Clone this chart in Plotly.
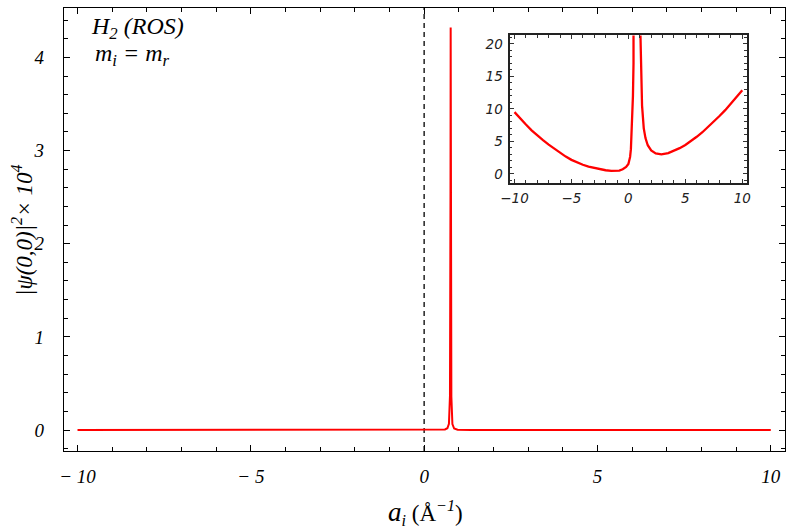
import plotly.graph_objects as go

# a_i values (Å^-1) and |psi(0,0)|^2 values (inset units)
a_i = [-10, -9.5, -9, -8.5, -8, -7.5, -7, -6.5, -6, -5.5, -5, -4.5, -4, -3.5, -3, -2.5,
       -2, -1.5, -1.2, -0.8, -0.5, -0.2, 0, 0.15, 0.22, 0.3, 0.35, 0.4, 0.45, 0.5,
       0.6, 0.67, 0.715, 0.745, 0.755, 0.76, 0.765, 0.77, 0.775, 0.785, 0.815,
       0.865, 0.965, 1.05, 1.1, 1.2, 1.35, 1.5, 1.7, 2.0, 2.4, 2.9, 3.5, 4, 4.5,
       5, 5.5, 6, 6.5, 7, 7.5, 8, 8.5, 9, 9.5, 10]
psi2 = [9.5, 8.5, 7.6, 6.7, 5.9, 5.2, 4.5, 3.85, 3.2, 2.65, 2.15, 1.75, 1.4, 1.1, 0.88, 0.7,
        0.55, 0.46, 0.44, 0.5, 0.7, 1.05, 1.5, 2.6, 3.8, 6.5, 8.8, 12, 17, 24,
        60, 190, 680, 3700, 11500, 25500, 43200, 25500, 11500, 3600, 640,
        160, 42, 22, 15.5, 10.5, 7, 5.5, 4.4, 3.6, 3.15, 3.0, 3.2, 3.55, 3.95,
        4.45, 5.05, 5.7, 6.4, 7.2, 8.0, 8.9, 9.8, 10.8, 11.8, 12.85]
scale = 1e4
main_y = [v / scale for v in psi2]

main_xticks = [-10, -5, 0, 5, 10]
main_xtext = ["\u2212 10", "\u2212 5", "0", "5", "10"]
main_yticks = [0, 1, 2, 3, 4]
inset_xticks = [-10, -5, 0, 5, 10]
inset_xtext = ["\u221210", "\u22125", "0", "5", "10"]
inset_yticks = [0, 5, 10, 15, 20]

serif = "Liberation Serif"
fig = go.Figure()
fig.add_trace(go.Scatter(x=a_i, y=main_y, mode="lines", line=dict(color="#ff0000", width=2),
                         xaxis="x", yaxis="y", showlegend=False))
fig.add_trace(go.Scatter(x=a_i, y=psi2, mode="lines", line=dict(color="#ff0000", width=2.3),
                         xaxis="x2", yaxis="y2", showlegend=False))

fig.add_shape(type="line", x0=0, x1=0, y0=0, y1=1, xref="x", yref="y domain",
              line=dict(color="#222222", width=1.5, dash="5px,4px"), layer="below")

axis_common = dict(showline=True, linecolor="black", linewidth=1.3, mirror="allticks",
                   ticks="inside", tickcolor="black", showgrid=False, zeroline=False,
                   automargin=False)
inset_common = dict(showline=True, linecolor="#222222", linewidth=2, mirror="allticks",
                    ticks="inside", tickcolor="#333", showgrid=False, zeroline=False,
                    automargin=False)

fig.update_layout(
    width=793, height=529,
    margin=dict(l=63.5, r=8, t=7.5, b=78),
    paper_bgcolor="white", plot_bgcolor="white",
    xaxis=dict(range=[-10.39, 10.41], tickvals=main_xticks, ticktext=main_xtext,
               ticklen=6, tickwidth=1.2, ticklabelstandoff=8,
               minor=dict(dtick=1, tick0=0, ticks="inside", ticklen=3.5, tickcolor="black", tickwidth=1),
               tickfont=dict(family=serif, size=19, color="black", style="italic"),
               **axis_common),
    yaxis=dict(range=[-0.225, 4.53], tickvals=main_yticks,
               ticklen=6, tickwidth=1.2, ticklabelstandoff=15,
               minor=dict(dtick=0.2, tick0=0, ticks="inside", ticklen=3.5, tickcolor="black", tickwidth=1),
               tickfont=dict(family=serif, size=19, color="black", style="italic"),
               **axis_common),
    xaxis2=dict(domain=[0.6179, 0.9469], anchor="y2", range=[-10.44, 10.39],
                tickvals=inset_xticks, ticktext=inset_xtext, ticklen=4, tickwidth=1,
                ticklabelstandoff=2,
                minor=dict(dtick=1, tick0=0, ticks="inside", ticklen=2.5, tickcolor="#333", tickwidth=1),
                tickfont=dict(family="DejaVu Sans", size=13.5, color="#222222", style="italic"),
                **inset_common),
    yaxis2=dict(domain=[0.6059, 0.938], anchor="x2", range=[-1.35, 21.3],
                tickvals=inset_yticks, ticklen=4, tickwidth=1, ticklabelstandoff=2,
                minor=dict(dtick=1, tick0=0, ticks="inside", ticklen=2.5, tickcolor="#333", tickwidth=1),
                tickfont=dict(family="DejaVu Sans", size=13.5, color="#222222", style="italic"),
                **inset_common),
    annotations=[
        dict(text="<i>H</i><sub>2</sub> <i>(ROS)</i>", x=0.034, y=0.954, xref="paper", yref="paper",
             xanchor="left", yanchor="middle", showarrow=False,
             font=dict(family=serif, size=24, color="black", style="italic")),
        dict(text="<i>m</i><sub><i>i</i></sub> = <i>m</i><sub><i>r</i></sub>", x=0.04, y=0.893,
             xref="paper", yref="paper", xanchor="left", yanchor="middle", showarrow=False,
             font=dict(family=serif, size=24, color="black", style="italic")),
        dict(text="<i><span style='font-size:27px'>a</span></i><sub><i>i</i></sub> (Å<sup><i>\u22121</i></sup>)",
             x=0.501, y=-0.1398,
             xref="paper", yref="paper", xanchor="center", yanchor="middle", showarrow=False,
             font=dict(family=serif, size=23, color="black", style="normal")),
        dict(text="|<i>ψ</i>(0,0)|<sup>2</sup>× 10<sup>4</sup>", x=-0.0575, y=0.498,
             xref="paper", yref="paper", xanchor="center", yanchor="middle", showarrow=False,
             textangle=-90,
             font=dict(family=serif, size=23, color="black", style="italic")),
    ],
)

fig.write_html("out.html", config={"displayModeBar": False},
               post_script="document.body.style.margin='0';document.body.style.overflow='hidden';")
